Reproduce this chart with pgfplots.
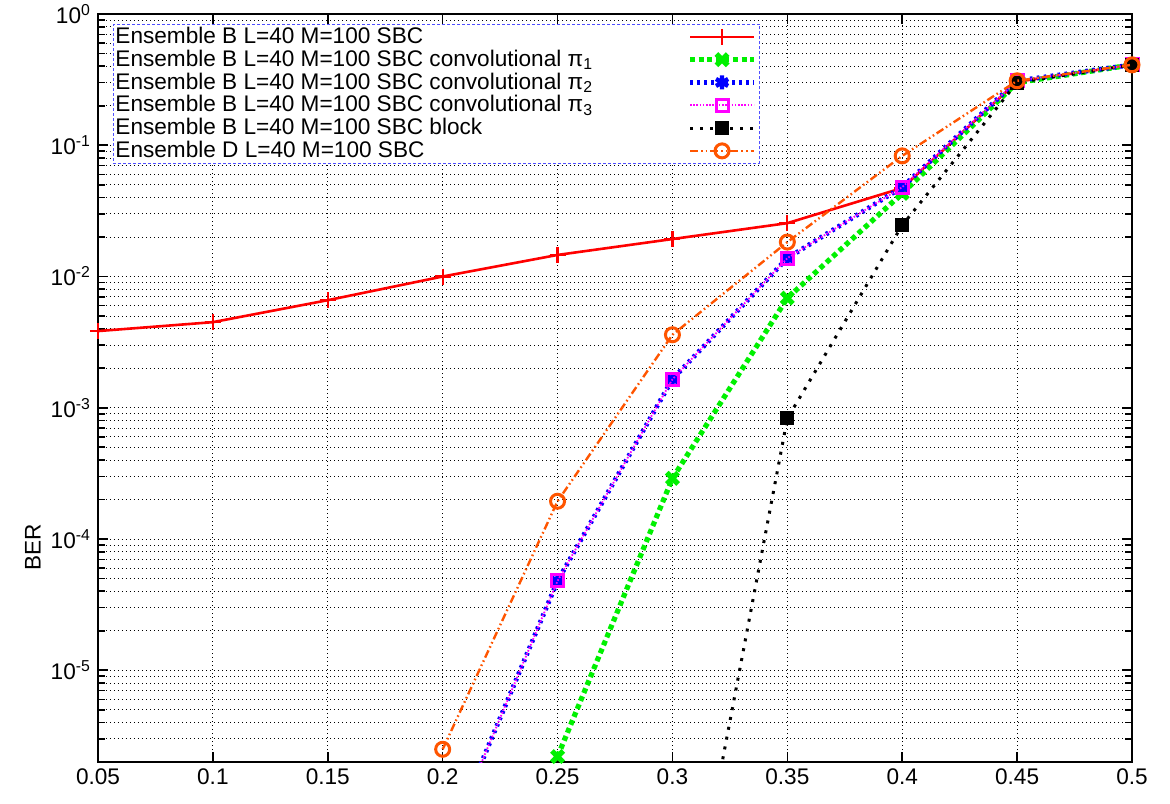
\documentclass[border=0pt]{standalone}
\usepackage{pgfplots}
\pgfplotsset{compat=1.18}
\usepackage{fontspec}
\setmainfont{Liberation Sans}
\definecolor{cred}{RGB}{255,0,0}
\definecolor{cgreen}{RGB}{0,240,0}
\definecolor{cblue}{RGB}{0,0,255}
\definecolor{cmag}{RGB}{255,0,255}
\definecolor{corange}{RGB}{255,85,0}
\definecolor{cleg}{RGB}{80,80,255}
\begin{document}
\begin{tikzpicture}
\path[use as bounding box] (-49pt,-20.5pt) rectangle (536pt,381pt);
\begin{axis}[
  scale only axis, width=517pt, height=374pt,
  at={(0,0)}, anchor=south west,
  xmin=0.05, xmax=0.5, ymode=log, ymin=2e-6, ymax=1,
  xtick={0.05,0.1,0.15,0.2,0.25,0.3,0.35,0.4,0.45,0.5},
  xticklabels={0.05,0.1,0.15,0.2,0.25,0.3,0.35,0.4,0.45,0.5},
  ytick={1e-5,1e-4,1e-3,1e-2,1e-1,1},
  yticklabels={10\textsuperscript{-5},10\textsuperscript{-4},10\textsuperscript{-3},10\textsuperscript{-2},10\textsuperscript{-1},10\textsuperscript{0}},
  minor ytick={2e-6,3e-6,4e-6,5e-6,6e-6,7e-6,8e-6,9e-6,
    2e-5,3e-5,4e-5,5e-5,6e-5,7e-5,8e-5,9e-5,
    2e-4,3e-4,4e-4,5e-4,6e-4,7e-4,8e-4,9e-4,
    2e-3,3e-3,4e-3,5e-3,6e-3,7e-3,8e-3,9e-3,
    2e-2,3e-2,4e-2,5e-2,6e-2,7e-2,8e-2,9e-2,
    0.2,0.3,0.4,0.5,0.6,0.7,0.8,0.9},
  grid=both, xminorgrids=false,
  major grid style={black, dash pattern=on 0.5pt off 1.5pt, line width=0.45pt},
  minor grid style={black, dash pattern=on 0.5pt off 1.5pt, line width=0.45pt},
  tick style={black, line width=0.8pt},
  major tick length=5pt, minor tick length=3.5pt,
  axis line style={line width=0.9pt},
  tick label style={font=\fontsize{11.3}{13}\selectfont},
  ylabel={BER},
  every axis y label/.style={at={(axis description cs:-0.063,0.287)}, rotate=90, anchor=center, font=\fontsize{11.3}{13}\selectfont},
  clip mode=individual,
  legend cell align=left, legend plot pos=right,
  legend style={at={(0.0145,0.9866)}, anchor=north west, draw=cleg, dash pattern=on 1.5pt off 1pt, line width=0.45pt,
    inner xsep=1pt, inner ysep=0.5pt, font=\fontsize{11.3}{11.3}\selectfont, row sep=0pt,
    nodes={inner sep=0pt, text height=9pt, text depth=2.4pt}},
  legend image code/.code={\draw[#1, mark indices={2}] plot coordinates {(0pt,0pt) (16pt,0pt) (32pt,0pt)}; \path (32.5pt,0pt);},
]
\addplot[color=cred, solid, line width=1.3pt, mark=+, mark size=4pt, mark options={solid, line width=1.1pt}]
coordinates {(0.05,3.84e-3)(0.1,4.49e-3)(0.15,6.6e-3)(0.2,1.0e-2)(0.25,1.46e-2)(0.3,1.93e-2)(0.35,2.55e-2)(0.4,4.72e-2)(0.45,0.305)(0.5,0.41)};
\addlegendentry{\makebox[286pt][l]{Ensemble B L=40 M=100 SBC}}
\addplot[color=cgreen, line width=2.6pt, dash pattern=on 2.5pt off 1.8pt, mark=x, mark size=4pt, mark options={solid, line width=2.6pt}]
coordinates {(0.25,2.2e-6)(0.3,2.9e-4)(0.35,6.85e-3)(0.4,4.3e-2)(0.45,0.30)(0.5,0.41)};
\addlegendentry{\makebox[286pt][l]{Ensemble B L=40 M=100 SBC convolutional π\textsubscript{1}}}
\addplot[color=cblue, line width=2.4pt, dash pattern=on 1.3pt off 2.2pt, mark=asterisk, mark size=3.5pt, mark indices={1,2,3,4,5,6}, mark options={solid, line width=2.2pt}]
coordinates {(0.2,3.9e-7)(0.25,4.8e-5)(0.3,1.65e-3)(0.35,1.38e-2)(0.4,4.8e-2)(0.45,0.31)(0.5,0.41)};
\addlegendentry{\makebox[286pt][l]{Ensemble B L=40 M=100 SBC convolutional π\textsubscript{2}}}
\addplot[color=cmag, line width=0.9pt, dash pattern=on 0.8pt off 0.8pt, mark=square, mark size=3pt, mark indices={1,2,3,4,5,6}, mark options={solid, line width=1.5pt}]
coordinates {(0.2,3.9e-7)(0.25,4.8e-5)(0.3,1.65e-3)(0.35,1.38e-2)(0.4,4.8e-2)(0.45,0.31)(0.5,0.41)};
\addlegendentry{\makebox[286pt][l]{Ensemble B L=40 M=100 SBC convolutional π\textsubscript{3}}}
\addplot[color=black, line width=1.5pt, dash pattern=on 1.5pt off 3.5pt, mark=square*, mark size=2.8pt, mark indices={1,2,3,4}, mark options={solid}]
coordinates {(0.3,2e-8)(0.35,8.3e-4)(0.4,2.46e-2)(0.45,0.30)(0.5,0.41)};
\addlegendentry{\makebox[286pt][l]{Ensemble B L=40 M=100 SBC block}}
\addplot[color=corange, line width=1.2pt, dash pattern=on 4pt off 1.5pt on 0.8pt off 1.5pt on 0.8pt off 1.5pt, mark=o, mark size=3.5pt, mark options={solid, line width=1.5pt}]
coordinates {(0.2,2.5e-6)(0.25,1.94e-4)(0.3,3.6e-3)(0.35,1.83e-2)(0.4,8.3e-2)(0.45,0.31)(0.5,0.41)};
\addlegendentry{\makebox[286pt][l]{Ensemble D L=40 M=100 SBC}}
\end{axis}
\end{tikzpicture}
\end{document}
